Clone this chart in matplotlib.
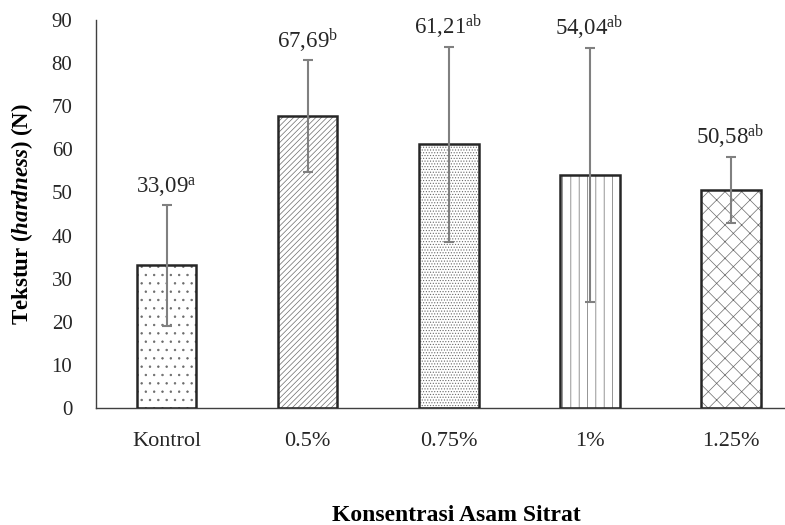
import matplotlib.pyplot as plt
import matplotlib as mpl

categories = ["Kontrol", "0.5%", "0.75%", "1%", "1.25%"]
means = [33.09, 67.69, 61.21, 54.04, 50.58]
errors = [14.0, 13.0, 22.6, 29.5, 7.7]
letters = ["a", "b", "ab", "ab", "ab"]
hatches = ["..", "//////", "......", "||", "xx"]

mpl.rcParams['font.family'] = ['Liberation Serif', 'DejaVu Serif']
mpl.rcParams['mathtext.fontset'] = 'custom'
mpl.rcParams['mathtext.rm'] = 'Liberation Serif'
mpl.rcParams['mathtext.it'] = 'Liberation Serif:italic'
mpl.rcParams['mathtext.bf'] = 'Liberation Serif:bold'
mpl.rcParams['mathtext.bfit'] = 'Liberation Serif:italic:bold'
mpl.rcParams['hatch.linewidth'] = 0.5

fig = plt.figure(figsize=(7.85, 5.25), dpi=100)
ax = fig.add_axes([0.1223, 0.2229, 0.8777, 0.739])

x = list(range(len(categories)))
ax.bar(x, means, width=0.425, color='white', edgecolor='none', zorder=2)
for i in x:
    ax.bar(i, means[i], width=0.425, color='none', edgecolor='#6a6a6a',
           linewidth=0, hatch=hatches[i], zorder=2)
ax.bar(x, means, width=0.425, color='none', edgecolor='#262626',
       linewidth=1.8, zorder=3)
ax.errorbar(x, means, yerr=errors, fmt='none', ecolor='#808080',
            elinewidth=1.5, capsize=3.5, capthick=1.5, zorder=4)

for i in x:
    lab = "%s$^{\\mathrm{%s}}$" % (("%.2f" % means[i]).replace('.', ','), letters[i])
    ax.annotate(lab, (i, means[i] + errors[i]), xytext=(0, 4),
                textcoords='offset points', ha='center', va='bottom',
                fontsize=16.5, color='#262626')

ax.set_ylim(0, 90)
ax.set_xlim(-0.5, 4.386)
ax.set_yticks(range(0, 91, 10))
ax.set_xticks(x)
ax.set_xticklabels(categories)
ax.tick_params(axis='y', length=0, pad=17, labelsize=15, colors='#262626')
ax.tick_params(axis='x', length=0, pad=17, labelsize=16, colors='#262626')
for s in ['top', 'right']:
    ax.spines[s].set_visible(False)
for s in ['left', 'bottom']:
    ax.spines[s].set_color('#404040')
    ax.spines[s].set_linewidth(1.0)

ax.set_ylabel("Tekstur ($\\mathbfit{hardness}$) (N)", fontsize=16.5,
              fontweight='bold')
ax.yaxis.set_label_coords(-0.089, 0.5)
fig.text(0.581, 0.019, "Konsentrasi Asam Sitrat",
         ha='center', va='center', fontsize=17, fontweight='bold')

fig.savefig("out.png", dpi=100)
